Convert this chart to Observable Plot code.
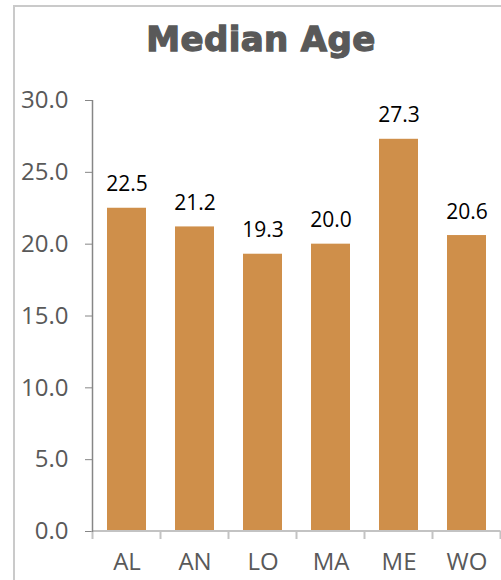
<!DOCTYPE html>
<html><head><meta charset="utf-8">
<script src="https://cdn.jsdelivr.net/npm/d3@7"></script>
<script src="https://cdn.jsdelivr.net/npm/@observablehq/plot@0.6"></script>
<style>
html,body{margin:0;padding:0;background:#fff;overflow:hidden;}
#wrap{position:relative;width:501px;height:580px;overflow:hidden;}
#frame{position:absolute;left:13px;top:5px;width:600px;height:700px;border-left:2px solid #cacaca;border-top:2px solid #cacaca;box-sizing:border-box;}
#title{position:absolute;left:0;top:19px;width:522px;height:40px;line-height:40px;text-align:center;font-family:"DejaVu Sans",sans-serif;font-weight:bold;font-size:34px;color:#595959;letter-spacing:0.4px;-webkit-text-stroke:1.3px #595959;}
#chart{position:absolute;left:0;top:80px;}
</style></head>
<body>
<div id="wrap">
  <div id="frame"></div>
  <div id="title">Median Age</div>
  <div id="chart"></div>
</div>
<script>
const categories = ["AL","AN","LO","MA","ME","WO"];
const values = [22.5, 21.2, 19.3, 20.0, 27.3, 20.6];
const yTicks = [0, 5, 10, 15, 20, 25, 30];
const data = categories.map((c, i) => ({c, v: values[i]}));

const chart = Plot.plot({
  width: 501, height: 500,
  marginTop: 20, marginBottom: 49, marginLeft: 92, marginRight: 0,
  style: {background: "transparent", fontFamily: "'Open Sans', sans-serif", color: "#595959"},
  x: {domain: categories, paddingInner: 0.43, paddingOuter: 0.215, label: null},
  y: {domain: [0, 30], label: null},
  marks: [
    Plot.barY(data, {x: "c", y: "v", fill: "#CF8F4A"}),
    Plot.axisY({ticks: yTicks, tickFormat: d => d.toFixed(1), tickSize: 7, tickPadding: 17, fontSize: 24, stroke: "#868686", fill: "#595959"}),
    Plot.axisX({tickSize: 0, tickPadding: 21, fontSize: 24, fill: "#595959"}),
    Plot.text(data, {x: "c", y: "v", text: d => d.v.toFixed(1), dy: -17, lineAnchor: "bottom", fontSize: 21, fill: "#000"})
  ]
});
document.getElementById("chart").appendChild(chart);

const sx = chart.scale("x"), sy = chart.scale("y");
const step = sx.apply(categories[1]) - sx.apply(categories[0]);
const bw = sx.bandwidth;
const svg = d3.select(chart);
const y0 = sy.apply(0), y30 = sy.apply(30);
const g = svg.append("g");
// x axis baseline
const xs = categories.map(c => sx.apply(c) + bw / 2 - step / 2);
xs.push(xs[xs.length - 1] + step);
g.append("line").attr("x1", xs[0]).attr("x2", xs[xs.length - 1]).attr("y1", y0).attr("y2", y0)
  .attr("stroke", "#c3c3c3").attr("stroke-width", 2);
xs.forEach(x => g.append("line").attr("x1", x).attr("x2", x).attr("y1", y0).attr("y2", y0 + 8)
  .attr("stroke", "#c3c3c3").attr("stroke-width", 2));
// y axis line
g.append("line").attr("x1", xs[0]).attr("x2", xs[0]).attr("y1", y30).attr("y2", y0 + 1)
  .attr("stroke", "#868686").attr("stroke-width", 1.5);
</script>
</body></html>
